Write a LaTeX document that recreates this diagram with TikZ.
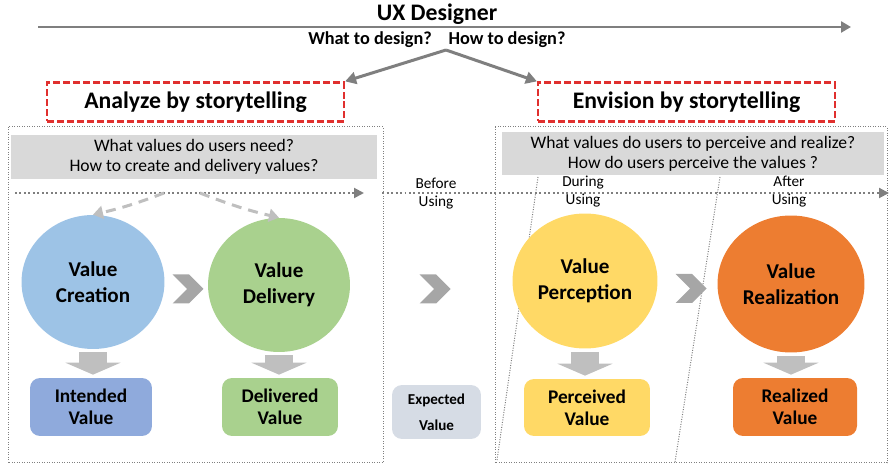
\documentclass[tikz,border=0pt]{standalone}
\usepackage{fontspec}
\setmainfont{Carlito}
\usetikzlibrary{arrows.meta,shapes.geometric,shapes.symbols}
\definecolor{storyred}{HTML}{E0302E}
\definecolor{bannergray}{HTML}{D9D9D9}
\definecolor{linegray}{HTML}{7F7F7F}
\definecolor{chevgray}{HTML}{A6A6A6}
\definecolor{downgray}{HTML}{BFBFBF}
\definecolor{vcblue}{HTML}{9DC3E6}
\definecolor{ivblue}{HTML}{8FAADC}
\definecolor{vdgreen}{HTML}{A9D18E}
\definecolor{vpyellow}{HTML}{FFD966}
\definecolor{vrorange}{HTML}{ED7D31}
\definecolor{evgray}{HTML}{D6DCE5}
\begin{document}
\begin{tikzpicture}[x=0.02cm, y=-0.02cm, >=Stealth,
    bigtext/.style={font=\fontsize{13.5}{16}\selectfont\bfseries, inner sep=0pt},
    question/.style={font=\fontsize{10.4}{12}\selectfont\bfseries, inner sep=0pt},
    storybox/.style={draw=storyred, line width=0.045cm, dash pattern=on 0.14cm off 0.06cm, minimum width=5.94cm, minimum height=0.78cm, font=\fontsize{13.5}{16}\selectfont\bfseries},
    banner/.style={fill=bannergray, align=center, font=\fontsize{10}{11.4}\selectfont, inner sep=0pt},
    valuecirc/.style={ellipse, align=center, font=\fontsize{12}{14.5}\selectfont\bfseries, inner sep=0pt},
    valuebox/.style={rounded corners=0.2cm, align=center, font=\fontsize{11}{12.5}\selectfont\bfseries, inner sep=0pt},
    chevron/.style={signal, signal from=west, signal to=east, fill=chevgray, minimum width=0.62cm, minimum height=0.58cm, inner sep=0pt},
    stage/.style={align=center, font=\fontsize{8.7}{10.2}\selectfont, inner sep=0pt},
    frame/.style={draw=linegray, line width=0.02cm, dash pattern=on 0.02cm off 0.03cm},
    timeline/.style={draw=linegray, line width=0.04cm, dash pattern=on 0.04cm off 0.05cm, -{Triangle[length=0.2cm,width=0.2cm]}},
    uxline/.style={draw=linegray, line width=0.05cm, -{Triangle[length=0.2cm,width=0.22cm]}},
    forkarr/.style={draw=linegray, line width=0.06cm, -{Triangle[length=0.22cm,width=0.24cm]}},
    dasharr/.style={draw=downgray, line width=0.06cm, dash pattern=on 0.2cm off 0.14cm, -{Triangle[length=0.2cm,width=0.26cm]}},
    downarr/.style={draw=downgray, line width=0.56cm, -{Triangle[width=1.1cm,length=0.24cm]}, shorten <=0.06cm, shorten >=0.06cm}]
    \useasboundingbox (0,0) rectangle (892,465);
    \node[bigtext] (ux) at (437,14) {UX Designer};
    \coordinate (ux0) at (38,27);
    \coordinate (ux1) at (851,27);
    \draw[uxline] (ux0) -- (ux1);
    \node[question] (what) at (370,40) {What to design?};
    \node[question] (how) at (507,40) {How to design?};
    \coordinate (fork) at (446,50);
    \node[storybox] (analyze) at (195.5,102) {Analyze by storytelling};
    \node[storybox] (envision) at (686.5,102) {Envision by storytelling};
    \draw[forkarr] (fork) -- (analyze.north east);
    \draw[forkarr] (fork) -- (envision.north west);
    \draw[frame] (8,127) rectangle (383,463);
    \draw[frame] (495,127) rectangle (887,463);
    \draw[frame] (538,177) -- (497,460);
    \draw[frame] (720,177) -- (675,462);
    \node[banner, minimum width=7.32cm, minimum height=0.88cm] (needs) at (194,157) {What values do users need?\\How to create and delivery values?};
    \node[banner, minimum width=7.64cm, minimum height=0.86cm] (perceive) at (693,153.5) {What values do users to perceive and realize?\\How do users perceive the values ?};
    \coordinate (tl0) at (15,193);
    \coordinate (tl1) at (364,193);
    \coordinate (tl2) at (382,193);
    \coordinate (tl3) at (889,193);
    \draw[timeline] (tl0) -- (tl1);
    \draw[timeline] (tl2) -- (tl3);
    \node[stage] (before) at (436,194) {Before\\Using};
    \node[stage] (during) at (583,192) {During\\Using};
    \node[stage] (after) at (789,192) {After\\Using};
    \node[valuecirc, fill=vcblue, minimum width=2.86cm, minimum height=2.68cm] (vc) at (93,282) {Value\\Creation};
    \node[valuecirc, fill=vdgreen, minimum width=2.84cm, minimum height=2.68cm] (vd) at (279,285) {Value\\Delivery};
    \node[valuecirc, fill=vpyellow, minimum width=2.9cm, minimum height=2.7cm] (vp) at (585,281) {Value\\Perception};
    \node[valuecirc, fill=vrorange, minimum width=2.94cm, minimum height=2.74cm] (vr) at (791,284) {Value\\Realization};
    \node[chevron] (ch1) at (188,289) {};
    \node[chevron] (ch2) at (435,289) {};
    \node[chevron] (ch3) at (691,288.5) {};
    \coordinate (d1) at (164,193);
    \coordinate (d2) at (200,193);
    \draw[dasharr] (d1) to[bend left=4] (vc.north);
    \draw[dasharr] (d2) to[bend right=4] (vd.north);
    \node[valuebox, fill=ivblue, minimum width=2.44cm, minimum height=1.16cm] (iv) at (91,407) {Intended\\Value};
    \node[valuebox, fill=vdgreen, minimum width=2.32cm, minimum height=1.16cm] (dv) at (280,407) {Delivered\\Value};
    \node[valuebox, fill=evgray, minimum width=1.78cm, minimum height=1.08cm, font=\fontsize{8.6}{14.7}\selectfont\bfseries] (ev) at (436.5,412) {Expected\\Value};
    \node[valuebox, fill=vpyellow, minimum width=2.52cm, minimum height=1.14cm] (pv) at (587,407.5) {Perceived\\Value};
    \node[valuebox, fill=vrorange, minimum width=2.48cm, minimum height=1.16cm] (rv) at (795,407) {Realized\\Value};
    \draw[downarr] (vc.south) -- (vc.south |- iv.north);
    \draw[downarr] (vd.south) -- (vd.south |- dv.north);
    \draw[downarr] (vp.south) -- (vp.south |- pv.north);
    \draw[downarr] (vr.south) -- (vr.south |- rv.north);
\end{tikzpicture}
\end{document}
